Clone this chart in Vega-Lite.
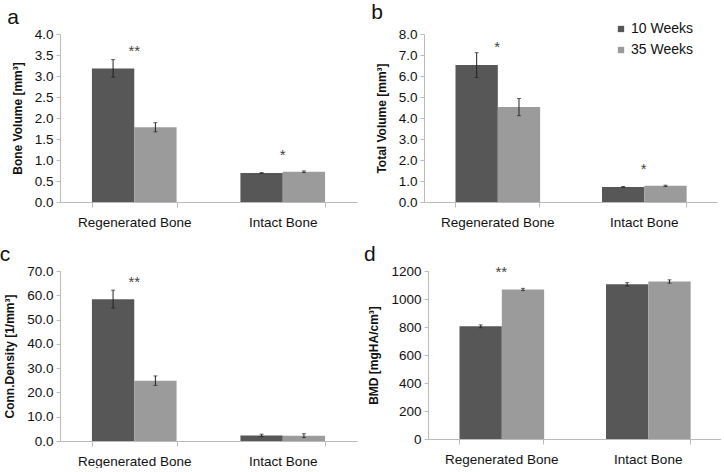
{
  "$schema": "https://vega.github.io/schema/vega-lite/v6.json",
  "padding": {"left": -1, "top": 2, "right": 0, "bottom": 0},
  "background": "white",
  "config": {
    "font": "Liberation Sans",
    "view": {"stroke": null},
    "axis": {"domainColor": "#bbbbbb", "tickColor": "#bbbbbb", "labelColor": "#111111", "labelFontSize": 13.5, "titleFontSize": 12, "titleFontWeight": "bold", "titleColor": "#111111", "grid": false, "labelOverlap": false},
    "axisX": {"title": null, "labelAngle": 0, "tickBand": "extent", "tickSize": 5, "labelPadding": 8},
    "axisY": {"tickSize": 4, "labelPadding": 3, "titlePadding": 10},
    "title": {"fontSize": 21, "fontWeight": "normal", "anchor": "start", "frame": "bounds", "color": "#111111", "offset": -1, "dx": -4}
  },
  "datasets": {
    "bars": [
      {"panel": "a", "cat": "Regenerated Bone", "group": "10 Weeks", "value": 3.18, "lo": 2.97, "hi": 3.39},
      {"panel": "a", "cat": "Regenerated Bone", "group": "35 Weeks", "value": 1.78, "lo": 1.67, "hi": 1.89},
      {"panel": "a", "cat": "Intact Bone", "group": "10 Weeks", "value": 0.69, "lo": 0.68, "hi": 0.70},
      {"panel": "a", "cat": "Intact Bone", "group": "35 Weeks", "value": 0.72, "lo": 0.70, "hi": 0.74},
      {"panel": "b", "cat": "Regenerated Bone", "group": "10 Weeks", "value": 6.52, "lo": 5.93, "hi": 7.11},
      {"panel": "b", "cat": "Regenerated Bone", "group": "35 Weeks", "value": 4.52, "lo": 4.11, "hi": 4.93},
      {"panel": "b", "cat": "Intact Bone", "group": "10 Weeks", "value": 0.72, "lo": 0.70, "hi": 0.74},
      {"panel": "b", "cat": "Intact Bone", "group": "35 Weeks", "value": 0.77, "lo": 0.74, "hi": 0.80},
      {"panel": "c", "cat": "Regenerated Bone", "group": "10 Weeks", "value": 58.4, "lo": 54.7, "hi": 62.1},
      {"panel": "c", "cat": "Regenerated Bone", "group": "35 Weeks", "value": 24.8, "lo": 22.9, "hi": 26.8},
      {"panel": "c", "cat": "Intact Bone", "group": "10 Weeks", "value": 2.3, "lo": 1.8, "hi": 2.8},
      {"panel": "c", "cat": "Intact Bone", "group": "35 Weeks", "value": 2.2, "lo": 1.4, "hi": 3.0},
      {"panel": "d", "cat": "Regenerated Bone", "group": "10 Weeks", "value": 805, "lo": 795, "hi": 815},
      {"panel": "d", "cat": "Regenerated Bone", "group": "35 Weeks", "value": 1068, "lo": 1060, "hi": 1076},
      {"panel": "d", "cat": "Intact Bone", "group": "10 Weeks", "value": 1105, "lo": 1093, "hi": 1117},
      {"panel": "d", "cat": "Intact Bone", "group": "35 Weeks", "value": 1125, "lo": 1113, "hi": 1137}
    ],
    "stars": [
      {"panel": "a", "cat": "Regenerated Bone", "label": "**", "y": 3.6},
      {"panel": "a", "cat": "Intact Bone", "label": "*", "y": 1.13},
      {"panel": "b", "cat": "Regenerated Bone", "label": "*", "y": 7.4},
      {"panel": "b", "cat": "Intact Bone", "label": "*", "y": 1.58},
      {"panel": "c", "cat": "Regenerated Bone", "label": "**", "y": 65.5},
      {"panel": "d", "cat": "Regenerated Bone", "label": "**", "y": 1195}
    ]
  },
  "resolve": {"scale": {"color": "independent"}, "legend": {"color": "independent"}},
  "spacing": 15,
  "vconcat": [
    {
      "resolve": {"scale": {"color": "independent"}, "legend": {"color": "independent"}},
      "spacing": 14,
      "hconcat": [
        {
          "width": 297, "height": 168,
          "title": {"text": "a"},
          "layer": [
            {"data": {"name": "bars"}, "transform": [{"filter": "datum.panel == 'a'"}], "mark": {"type": "bar"},
             "encoding": {
               "x": {"field": "cat", "type": "nominal", "sort": ["Regenerated Bone", "Intact Bone"], "scale": {"paddingInner": 0.43, "paddingOuter": 0.215}},
               "xOffset": {"field": "group", "type": "nominal", "scale": {"paddingInner": 0, "paddingOuter": 0}},
               "y": {"field": "value", "type": "quantitative", "scale": {"domain": [0, 4]}, "axis": {"title": "Bone Volume  [mm³]", "values": [0, 0.5, 1, 1.5, 2, 2.5, 3, 3.5, 4], "format": ".1f"}},
               "color": {"field": "group", "type": "nominal", "scale": {"range": ["#575757", "#9b9b9b"]}, "legend": null}
             }},
            {"data": {"name": "bars"}, "transform": [{"filter": "datum.panel == 'a'"}], "mark": {"type": "rule", "color": "#222222", "strokeWidth": 1},
             "encoding": {"x": {"field": "cat", "type": "nominal", "sort": ["Regenerated Bone", "Intact Bone"]}, "xOffset": {"field": "group", "type": "nominal"}, "y": {"field": "lo", "type": "quantitative", "axis": {"title": "Bone Volume  [mm³]", "values": [0, 0.5, 1, 1.5, 2, 2.5, 3, 3.5, 4], "format": ".1f"}}, "y2": {"field": "hi"}}},
            {"data": {"name": "bars"}, "transform": [{"filter": "datum.panel == 'a'"}], "mark": {"type": "tick", "color": "#222222", "size": 4, "thickness": 1},
             "encoding": {"x": {"field": "cat", "type": "nominal", "sort": ["Regenerated Bone", "Intact Bone"]}, "xOffset": {"field": "group", "type": "nominal"}, "y": {"field": "lo", "type": "quantitative", "axis": {"title": "Bone Volume  [mm³]", "values": [0, 0.5, 1, 1.5, 2, 2.5, 3, 3.5, 4], "format": ".1f"}}}},
            {"data": {"name": "bars"}, "transform": [{"filter": "datum.panel == 'a'"}], "mark": {"type": "tick", "color": "#222222", "size": 4, "thickness": 1},
             "encoding": {"x": {"field": "cat", "type": "nominal", "sort": ["Regenerated Bone", "Intact Bone"]}, "xOffset": {"field": "group", "type": "nominal"}, "y": {"field": "hi", "type": "quantitative", "axis": {"title": "Bone Volume  [mm³]", "values": [0, 0.5, 1, 1.5, 2, 2.5, 3, 3.5, 4], "format": ".1f"}}}},
            {"data": {"name": "stars"}, "transform": [{"filter": "datum.panel == 'a'"}], "mark": {"type": "text", "fontSize": 15, "color": "#444444", "baseline": "middle"},
             "encoding": {"x": {"field": "cat", "type": "nominal", "sort": ["Regenerated Bone", "Intact Bone"]}, "y": {"field": "y", "type": "quantitative", "axis": {"title": "Bone Volume  [mm³]", "values": [0, 0.5, 1, 1.5, 2, 2.5, 3, 3.5, 4], "format": ".1f"}}, "text": {"field": "label"}}}
          ]
        },
        {
          "width": 293, "height": 168,
          "title": {"text": "b"},
          "layer": [
            {"data": {"name": "bars"}, "transform": [{"filter": "datum.panel == 'b'"}], "mark": {"type": "bar"},
             "encoding": {
               "x": {"field": "cat", "type": "nominal", "sort": ["Regenerated Bone", "Intact Bone"], "scale": {"paddingInner": 0.43, "paddingOuter": 0.215}},
               "xOffset": {"field": "group", "type": "nominal", "scale": {"paddingInner": 0, "paddingOuter": 0}},
               "y": {"field": "value", "type": "quantitative", "scale": {"domain": [0, 8]}, "axis": {"title": "Total Volume  [mm³]", "values": [0, 1, 2, 3, 4, 5, 6, 7, 8], "format": ".1f"}},
               "color": {"field": "group", "type": "nominal", "scale": {"range": ["#575757", "#9b9b9b"]},
                 "legend": {"title": null, "orient": "none", "legendX": 190, "legendY": -12, "symbolType": "square", "symbolSize": 40, "symbolStrokeWidth": 0, "labelFontSize": 14, "labelColor": "#111111", "rowPadding": 7, "labelOffset": 3}}
             }},
            {"data": {"name": "bars"}, "transform": [{"filter": "datum.panel == 'b'"}], "mark": {"type": "rule", "color": "#222222", "strokeWidth": 1},
             "encoding": {"x": {"field": "cat", "type": "nominal", "sort": ["Regenerated Bone", "Intact Bone"]}, "xOffset": {"field": "group", "type": "nominal"}, "y": {"field": "lo", "type": "quantitative", "axis": {"title": "Total Volume  [mm³]", "values": [0, 1, 2, 3, 4, 5, 6, 7, 8], "format": ".1f"}}, "y2": {"field": "hi"}}},
            {"data": {"name": "bars"}, "transform": [{"filter": "datum.panel == 'b'"}], "mark": {"type": "tick", "color": "#222222", "size": 4, "thickness": 1},
             "encoding": {"x": {"field": "cat", "type": "nominal", "sort": ["Regenerated Bone", "Intact Bone"]}, "xOffset": {"field": "group", "type": "nominal"}, "y": {"field": "lo", "type": "quantitative", "axis": {"title": "Total Volume  [mm³]", "values": [0, 1, 2, 3, 4, 5, 6, 7, 8], "format": ".1f"}}}},
            {"data": {"name": "bars"}, "transform": [{"filter": "datum.panel == 'b'"}], "mark": {"type": "tick", "color": "#222222", "size": 4, "thickness": 1},
             "encoding": {"x": {"field": "cat", "type": "nominal", "sort": ["Regenerated Bone", "Intact Bone"]}, "xOffset": {"field": "group", "type": "nominal"}, "y": {"field": "hi", "type": "quantitative", "axis": {"title": "Total Volume  [mm³]", "values": [0, 1, 2, 3, 4, 5, 6, 7, 8], "format": ".1f"}}}},
            {"data": {"name": "stars"}, "transform": [{"filter": "datum.panel == 'b'"}], "mark": {"type": "text", "fontSize": 15, "color": "#444444", "baseline": "middle"},
             "encoding": {"x": {"field": "cat", "type": "nominal", "sort": ["Regenerated Bone", "Intact Bone"]}, "y": {"field": "y", "type": "quantitative", "axis": {"title": "Total Volume  [mm³]", "values": [0, 1, 2, 3, 4, 5, 6, 7, 8], "format": ".1f"}}, "text": {"field": "label"}}}
          ]
        }
      ]
    },
    {
      "resolve": {"scale": {"color": "independent"}, "legend": {"color": "independent"}},
      "spacing": 6,
      "hconcat": [
        {
          "width": 297, "height": 170,
          "title": {"text": "c"},
          "layer": [
            {"data": {"name": "bars"}, "transform": [{"filter": "datum.panel == 'c'"}], "mark": {"type": "bar"},
             "encoding": {
               "x": {"field": "cat", "type": "nominal", "sort": ["Regenerated Bone", "Intact Bone"], "scale": {"paddingInner": 0.43, "paddingOuter": 0.215}},
               "xOffset": {"field": "group", "type": "nominal", "scale": {"paddingInner": 0, "paddingOuter": 0}},
               "y": {"field": "value", "type": "quantitative", "scale": {"domain": [0, 70]}, "axis": {"title": "Conn.Density  [1/mm³]", "values": [0, 10, 20, 30, 40, 50, 60, 70], "format": ".1f"}},
               "color": {"field": "group", "type": "nominal", "scale": {"range": ["#575757", "#9b9b9b"]}, "legend": null}
             }},
            {"data": {"name": "bars"}, "transform": [{"filter": "datum.panel == 'c'"}], "mark": {"type": "rule", "color": "#222222", "strokeWidth": 1},
             "encoding": {"x": {"field": "cat", "type": "nominal", "sort": ["Regenerated Bone", "Intact Bone"]}, "xOffset": {"field": "group", "type": "nominal"}, "y": {"field": "lo", "type": "quantitative", "axis": {"title": "Conn.Density  [1/mm³]", "values": [0, 10, 20, 30, 40, 50, 60, 70], "format": ".1f"}}, "y2": {"field": "hi"}}},
            {"data": {"name": "bars"}, "transform": [{"filter": "datum.panel == 'c'"}], "mark": {"type": "tick", "color": "#222222", "size": 4, "thickness": 1},
             "encoding": {"x": {"field": "cat", "type": "nominal", "sort": ["Regenerated Bone", "Intact Bone"]}, "xOffset": {"field": "group", "type": "nominal"}, "y": {"field": "lo", "type": "quantitative", "axis": {"title": "Conn.Density  [1/mm³]", "values": [0, 10, 20, 30, 40, 50, 60, 70], "format": ".1f"}}}},
            {"data": {"name": "bars"}, "transform": [{"filter": "datum.panel == 'c'"}], "mark": {"type": "tick", "color": "#222222", "size": 4, "thickness": 1},
             "encoding": {"x": {"field": "cat", "type": "nominal", "sort": ["Regenerated Bone", "Intact Bone"]}, "xOffset": {"field": "group", "type": "nominal"}, "y": {"field": "hi", "type": "quantitative", "axis": {"title": "Conn.Density  [1/mm³]", "values": [0, 10, 20, 30, 40, 50, 60, 70], "format": ".1f"}}}},
            {"data": {"name": "stars"}, "transform": [{"filter": "datum.panel == 'c'"}], "mark": {"type": "text", "fontSize": 15, "color": "#444444", "baseline": "middle"},
             "encoding": {"x": {"field": "cat", "type": "nominal", "sort": ["Regenerated Bone", "Intact Bone"]}, "y": {"field": "y", "type": "quantitative", "axis": {"title": "Conn.Density  [1/mm³]", "values": [0, 10, 20, 30, 40, 50, 60, 70], "format": ".1f"}}, "text": {"field": "label"}}}
          ]
        },
        {
          "width": 293, "height": 168,
          "title": {"text": "d"},
          "layer": [
            {"data": {"name": "bars"}, "transform": [{"filter": "datum.panel == 'd'"}], "mark": {"type": "bar"},
             "encoding": {
               "x": {"field": "cat", "type": "nominal", "sort": ["Regenerated Bone", "Intact Bone"], "scale": {"paddingInner": 0.43, "paddingOuter": 0.215}},
               "xOffset": {"field": "group", "type": "nominal", "scale": {"paddingInner": 0, "paddingOuter": 0}},
               "y": {"field": "value", "type": "quantitative", "scale": {"domain": [0, 1200]}, "axis": {"title": "BMD [mgHA/cm³]", "values": [0, 200, 400, 600, 800, 1000, 1200], "format": "d"}},
               "color": {"field": "group", "type": "nominal", "scale": {"range": ["#575757", "#9b9b9b"]}, "legend": null}
             }},
            {"data": {"name": "bars"}, "transform": [{"filter": "datum.panel == 'd'"}], "mark": {"type": "rule", "color": "#222222", "strokeWidth": 1},
             "encoding": {"x": {"field": "cat", "type": "nominal", "sort": ["Regenerated Bone", "Intact Bone"]}, "xOffset": {"field": "group", "type": "nominal"}, "y": {"field": "lo", "type": "quantitative", "axis": {"title": "BMD [mgHA/cm³]", "values": [0, 200, 400, 600, 800, 1000, 1200], "format": "d"}}, "y2": {"field": "hi"}}},
            {"data": {"name": "bars"}, "transform": [{"filter": "datum.panel == 'd'"}], "mark": {"type": "tick", "color": "#222222", "size": 4, "thickness": 1},
             "encoding": {"x": {"field": "cat", "type": "nominal", "sort": ["Regenerated Bone", "Intact Bone"]}, "xOffset": {"field": "group", "type": "nominal"}, "y": {"field": "lo", "type": "quantitative", "axis": {"title": "BMD [mgHA/cm³]", "values": [0, 200, 400, 600, 800, 1000, 1200], "format": "d"}}}},
            {"data": {"name": "bars"}, "transform": [{"filter": "datum.panel == 'd'"}], "mark": {"type": "tick", "color": "#222222", "size": 4, "thickness": 1},
             "encoding": {"x": {"field": "cat", "type": "nominal", "sort": ["Regenerated Bone", "Intact Bone"]}, "xOffset": {"field": "group", "type": "nominal"}, "y": {"field": "hi", "type": "quantitative", "axis": {"title": "BMD [mgHA/cm³]", "values": [0, 200, 400, 600, 800, 1000, 1200], "format": "d"}}}},
            {"data": {"name": "stars"}, "transform": [{"filter": "datum.panel == 'd'"}], "mark": {"type": "text", "fontSize": 15, "color": "#444444", "baseline": "middle"},
             "encoding": {"x": {"field": "cat", "type": "nominal", "sort": ["Regenerated Bone", "Intact Bone"]}, "y": {"field": "y", "type": "quantitative", "axis": {"title": "BMD [mgHA/cm³]", "values": [0, 200, 400, 600, 800, 1000, 1200], "format": "d"}}, "text": {"field": "label"}}}
          ]
        }
      ]
    }
  ]
}
